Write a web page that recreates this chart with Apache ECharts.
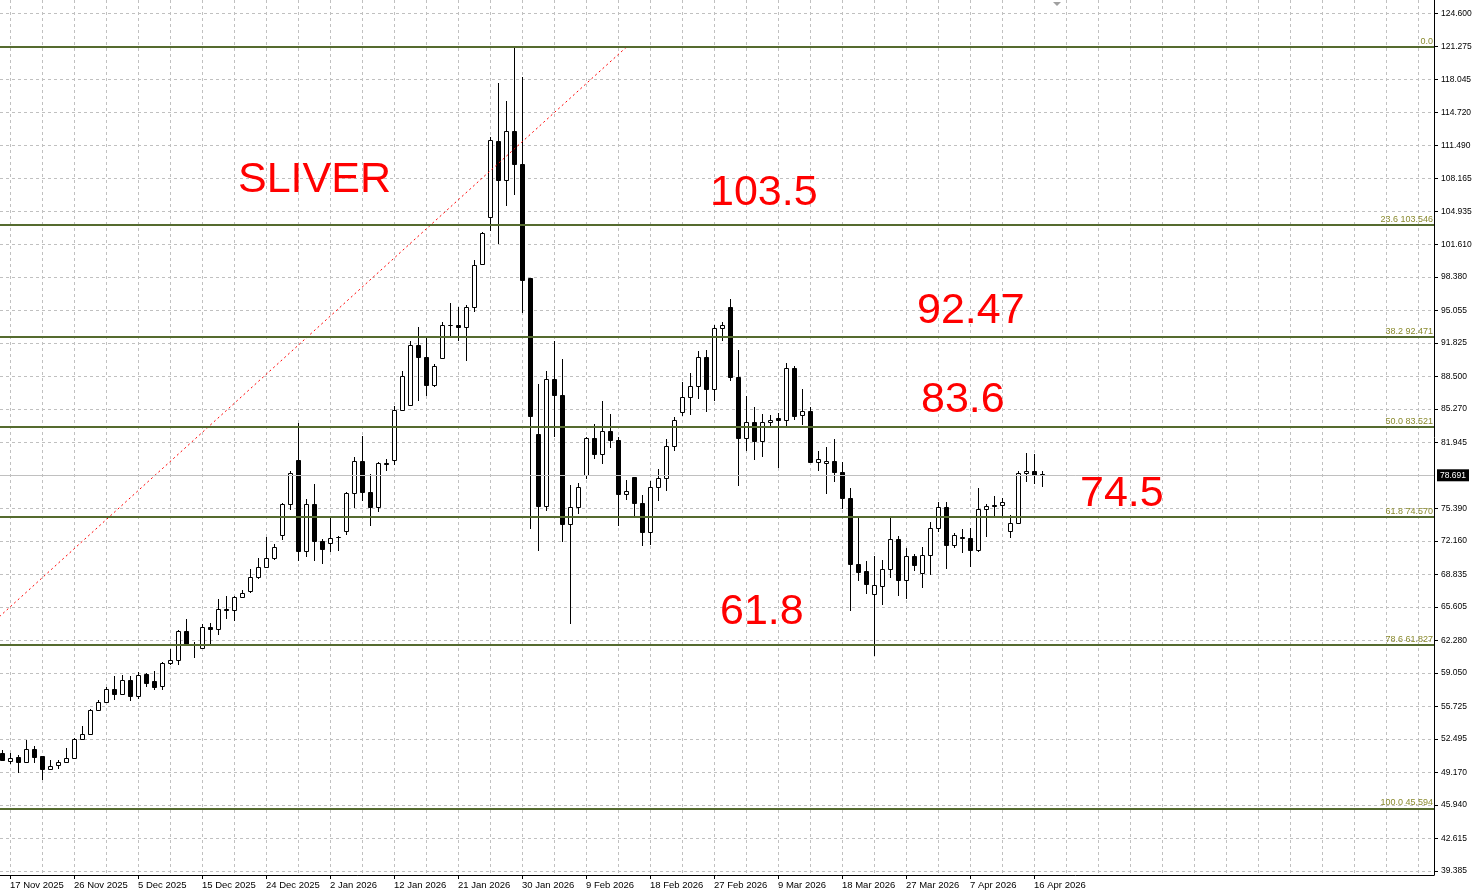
<!DOCTYPE html>
<html>
<head>
<meta charset="utf-8">
<script src="https://cdn.jsdelivr.net/npm/echarts@6.0.0/dist/echarts.min.js"></script>
<style>
html,body{margin:0;padding:0;background:#ffffff;}
#chart{width:1477px;height:894px;}
</style>
</head>
<body>
<div id="chart"></div>
<script>
// ---------- DATA ----------
const OPEN = [51.12,50.29,50.65,50.19,51.51,50.75,49.49,49.92,50.19,50.59,
  52.51,53.00,55.39,56.15,57.47,56.91,58.30,56.74,58.90,58.20,
  57.74,60.02,60.35,63.17,61.84,61.55,63.66,63.43,65.42,65.32,
  66.64,67.24,68.57,69.56,70.49,72.77,75.85,80.22,71.15,75.85,
  72.17,71.98,72.51,73.13,76.94,80.12,77.04,75.52,79.92,80.22,
  85.18,85.65,91.67,90.48,87.63,90.35,93.60,93.63,93.46,95.38,
  99.69,104.32,111.94,108.00,112.93,109.62,98.26,82.80,75.62,88.26,
  86.71,73.83,75.55,78.73,82.40,80.82,83.10,82.20,76.84,78.53,
  75.98,73.03,77.54,78.43,81.61,84.95,86.44,87.54,90.45,87.24,
  93.33,95.38,88.50,82.37,83.99,82.14,83.96,84.42,84.19,89.36,
  84.66,85.05,79.99,79.89,80.12,79.03,76.48,69.92,69.13,66.91,
  67.70,69.39,72.40,68.27,70.62,68.96,70.78,73.46,75.58,71.78,
  72.60,72.50,71.28,75.35,75.75,75.75,73.17,73.93,78.93,79.16,
  78.85];
const HIGH = [51.35,51.08,50.85,52.34,51.74,50.82,50.42,50.35,51.61,52.54,
  53.73,55.45,56.38,57.64,58.70,58.80,58.70,59.19,59.03,59.29,
  60.12,61.45,63.33,64.43,62.17,63.96,64.00,66.35,66.74,66.74,
  67.31,69.33,70.49,72.60,71.88,75.91,79.16,83.86,76.35,77.84,
  72.37,74.42,72.67,77.01,80.55,82.64,78.83,80.05,80.32,85.62,
  89.03,92.00,93.46,92.47,89.75,93.96,95.78,95.45,95.65,100.12,
  102.87,112.27,117.63,115.91,121.275,118.29,98.33,87.77,89.03,92.07,
  90.28,77.77,77.97,82.47,83.80,86.11,84.79,82.47,78.23,78.56,
  76.77,78.17,79.36,82.30,84.46,87.93,88.86,91.08,91.14,93.66,
  93.96,96.21,91.17,86.61,85.45,84.79,84.69,84.89,89.82,89.59,
  87.27,85.45,81.15,81.48,82.30,80.05,77.40,74.42,70.22,70.68,
  70.29,74.45,72.70,71.51,70.82,71.61,74.03,76.01,76.01,72.93,
  73.36,73.43,77.44,75.85,76.68,76.44,74.79,79.16,80.88,80.81,
  79.16];
const LOW = [50.29,50.02,49.10,50.09,50.12,48.37,49.43,49.46,50.09,50.52,
  52.41,52.90,55.32,56.05,56.38,56.81,56.25,56.48,57.70,57.31,
  57.31,59.79,59.79,61.70,60.52,61.45,61.88,62.77,64.36,64.26,
  66.58,67.00,68.40,69.46,70.32,72.21,75.29,70.22,70.55,70.22,
  69.89,71.05,71.21,72.77,75.42,76.11,73.63,75.02,79.16,79.72,
  85.12,85.60,86.05,86.61,87.50,90.25,92.47,92.07,90.09,94.89,
  99.69,103.00,101.67,105.48,106.57,94.79,73.37,71.15,75.12,82.47,
  72.04,63.93,74.86,78.30,80.32,79.82,81.41,73.70,76.28,74.59,
  71.71,71.81,76.11,77.11,81.15,84.62,84.72,86.28,85.02,86.11,
  92.07,88.03,77.67,81.15,80.25,80.48,83.53,79.39,83.63,84.19,
  83.73,79.90,79.16,76.84,78.00,75.35,65.25,68.23,66.91,60.78,
  65.78,68.50,66.68,66.44,69.16,67.50,68.76,73.03,69.33,71.44,
  70.95,69.56,71.05,72.60,74.69,74.69,72.44,73.80,78.00,77.83,
  77.50];
const CLOSE = [50.42,50.62,50.19,51.51,50.69,49.49,49.82,50.22,50.62,52.51,
  53.00,55.39,56.18,57.47,56.98,58.30,56.74,58.86,58.04,57.70,
  60.06,60.35,63.17,61.78,61.81,63.66,63.43,65.42,65.29,66.64,
  67.04,68.63,69.56,70.49,71.61,75.85,78.93,71.15,75.85,72.14,
  71.35,72.47,72.57,76.94,80.12,77.01,75.52,79.92,79.86,85.18,
  88.56,91.67,90.42,87.63,89.59,93.66,93.66,93.40,95.45,99.59,
  102.80,112.04,108.00,112.93,109.59,98.10,84.56,75.62,88.26,86.64,
  73.83,75.55,77.54,82.40,80.82,83.10,82.20,76.84,77.14,75.91,
  73.03,77.54,78.43,81.61,84.19,86.44,87.54,90.45,87.24,93.33,
  93.63,88.50,82.37,83.99,82.14,83.99,84.19,84.19,89.36,84.62,
  85.05,79.99,80.29,80.12,78.99,76.44,69.85,69.06,67.87,67.74,
  69.39,72.40,68.27,70.62,69.79,70.78,73.46,75.58,71.78,72.77,
  72.47,71.28,75.35,75.65,75.65,76.05,73.96,78.93,79.16,78.73,
  78.691];

const DATE_LABELS = ["17 Nov 2025","26 Nov 2025","5 Dec 2025","15 Dec 2025","24 Dec 2025",
  "2 Jan 2026","12 Jan 2026","21 Jan 2026","30 Jan 2026","9 Feb 2026","18 Feb 2026",
  "27 Feb 2026","9 Mar 2026","18 Mar 2026","27 Mar 2026","7 Apr 2026","16 Apr 2026"];
const FIRST_LABEL_BAR = 1;
const LABEL_EVERY = 8;

const PRICE_TICKS = [124.600,121.275,118.045,114.720,111.490,108.165,104.935,101.610,
  98.380,95.055,91.825,88.500,85.270,81.945,75.390,72.160,68.835,65.605,62.280,
  59.050,55.725,52.495,49.170,45.940,42.615,39.385];

const FIB_LEVELS = [0.0, 23.6, 38.2, 50.0, 61.8, 78.6, 100.0];
const FIB_PRICES = [121.275, 103.546, 92.471, 83.521, 74.570, 61.827, 45.594];

const TREND_BARS = [-26.7, 78.1];
const TREND_PRICES = [45.594, 121.275];

const LAST_PRICE = 78.691;

const NOTE_TEXTS = ["SLIVER", "103.5", "92.47", "83.6", "74.5", "61.8"];

// ---------- LAYOUT ----------
const OFFSET = 7;          // bar index -> x-axis value
const X_MAX = 186;
const Y_MIN = 38.97, Y_MAX = 125.92;
const NOTE_POS = [[238,180],[710,193],[917,311],[921,400],[1080,494],[720,612]];

const candleData = OPEN.map((o, k) => [k + OFFSET, o, CLOSE[k], LOW[k], HIGH[k]]);
const tickPos = DATE_LABELS.map((d, i) => FIRST_LABEL_BAR + OFFSET + i * LABEL_EVERY);
const labelMap = {};
tickPos.forEach((v, i) => { labelMap[v] = DATE_LABELS[i]; });

const FONT = '"Liberation Sans", Arial, sans-serif';

const fibMarks = FIB_LEVELS.map((lv, i) => ({
  yAxis: FIB_PRICES[i],
  label: {
    formatter: i === 0 ? lv.toFixed(1) : lv.toFixed(1) + ' ' + FIB_PRICES[i].toFixed(3)
  }
}));
fibMarks.push({
  yAxis: LAST_PRICE,
  lineStyle: { color: '#c0c0c0', width: 1, type: 'solid' },
  label: {
    position: 'end', distance: 3,
    formatter: LAST_PRICE.toFixed(3),
    color: '#ffffff', backgroundColor: '#000000',
    padding: [2, 3, 1, 3], fontSize: 8.5, fontFamily: FONT
  }
});

const chart = echarts.init(document.getElementById('chart'), null, { renderer: 'canvas' });

chart.setOption({
  animation: false,
  backgroundColor: '#ffffff',
  grid: { left: -54, right: 43, top: 0, bottom: 19, containLabel: false, outerBoundsMode: 'none' },
  xAxis: [
    {
      type: 'value', min: 0, max: X_MAX, interval: 4,
      axisLine: { show: true, onZero: false, lineStyle: { color: '#000000', width: 1 } },
      axisTick: { show: false },
      axisLabel: { show: false },
      splitLine: { show: true, lineStyle: { color: '#c0c0c0', width: 1, type: [3, 3] } }
    },
    {
      type: 'value', min: 0, max: X_MAX, position: 'bottom',
      axisLine: { show: false, onZero: false },
      axisTick: { show: true, length: 4, customValues: tickPos, lineStyle: { color: '#000000' } },
      axisLabel: {
        show: true, customValues: tickPos,
        formatter: v => labelMap[v] || '',
        align: 'left', margin: 5, fontSize: 9.5, fontFamily: FONT, color: '#000000'
      },
      splitLine: { show: false }
    }
  ],
  yAxis: {
    type: 'value', position: 'right', min: Y_MIN, max: Y_MAX,
    axisLine: { show: true, onZero: false, lineStyle: { color: '#000000', width: 1 } },
    axisTick: { show: true, inside: false, length: 4, customValues: PRICE_TICKS, lineStyle: { color: '#000000' } },
    axisLabel: {
      customValues: PRICE_TICKS,
      formatter: v => v.toFixed(3),
      color: '#000000', fontSize: 8.5, fontFamily: FONT, margin: 7
    },
    splitLine: { show: true, customValues: PRICE_TICKS, lineStyle: { color: '#c0c0c0', width: 1, type: [3, 3] } }
  },
  series: [
    {
      type: 'custom',
      name: 'SILVER',
      xAxisIndex: 0,
      z: 2,
      data: candleData,
      encode: { x: 0, y: [1, 2, 3, 4] },
      renderItem: function (params, api) {
        const v = api.value(0);
        const o = api.value(1), c = api.value(2), l = api.value(3), h = api.value(4);
        const pO = api.coord([v, o]), pC = api.coord([v, c]);
        const pL = api.coord([v, l]), pH = api.coord([v, h]);
        const x = Math.floor(pO[0]) + 0.5;
        const bull = c >= o;
        const yT = Math.round(Math.min(pO[1], pC[1]));
        const yB = Math.round(Math.max(pO[1], pC[1]));
        return {
          type: 'group',
          children: [
            { type: 'line', shape: { x1: x, y1: Math.round(pH[1]), x2: x, y2: Math.round(pL[1]) },
              style: { stroke: '#000000', lineWidth: 1 } },
            { type: 'rect', shape: { x: x - 2, y: yT + 0.5, width: 4, height: Math.max(0, yB - yT) },
              style: { fill: bull ? '#ffffff' : '#000000', stroke: '#000000', lineWidth: 1 } }
          ]
        };
      }
    },
    {
      type: 'line',
      name: 'Fibo',
      xAxisIndex: 0,
      z: 3,
      data: TREND_BARS.map((b, i) => [b + OFFSET, TREND_PRICES[i]]),
      symbol: 'none',
      clip: true,
      lineStyle: { color: '#ff0000', width: 1, type: [2, 3] },
      markLine: {
        silent: true,
        symbol: 'none',
        z: 4,
        lineStyle: { color: '#556b2f', width: 2, type: 'solid' },
        label: {
          show: true, position: 'insideEndTop', distance: 1,
          color: '#8a8a2e', fontSize: 9, fontFamily: FONT
        },
        data: fibMarks
      }
    }
  ],
  graphic: NOTE_TEXTS.map((t, i) => ({
    type: 'text',
    x: NOTE_POS[i][0], y: NOTE_POS[i][1],
    z: 10,
    style: {
      text: t, fill: '#ff0000',
      font: '43px "Liberation Sans", Arial, sans-serif',
      textAlign: 'left', textVerticalAlign: 'middle', verticalAlign: 'middle'
    }
  })).concat([{
    type: 'polygon', z: 10,
    shape: { points: [[1053, 2], [1061, 2], [1057, 6]] },
    style: { fill: '#a0a0a0' }
  }])
});
</script>
</body>
</html>
